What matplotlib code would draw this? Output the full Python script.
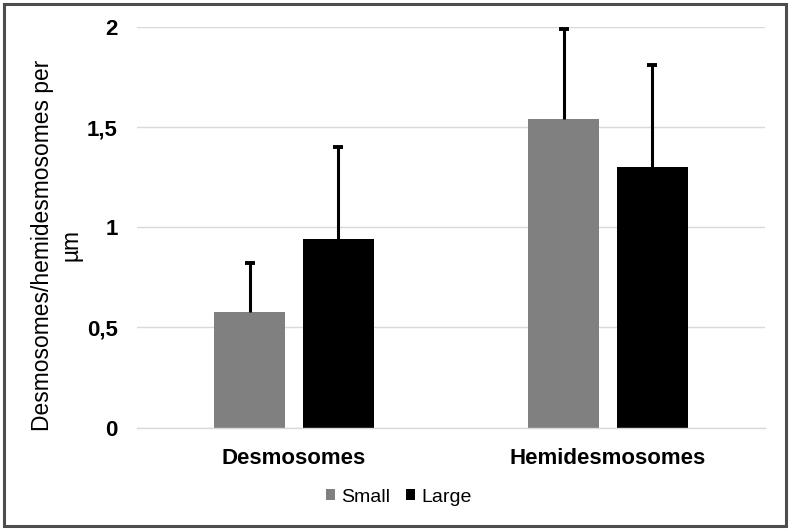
import numpy as np
import matplotlib.pyplot as plt
from matplotlib.patches import Rectangle

plt.rcParams['font.family'] = ['Liberation Sans', 'DejaVu Sans']

# data
categories = ['Desmosomes', 'Hemidesmosomes']
small_vals = [0.578, 1.54]
small_err = [0.245, 0.45]
large_vals = [0.943, 1.30]
large_err = [0.457, 0.51]
yticks = [0, 0.5, 1, 1.5, 2]
ytick_labels = ['0', '0,5', '1', '1,5', '2']

W, H = 790, 530
fig = plt.figure(figsize=(W / 100, H / 100), dpi=100)
ax = fig.add_axes([137 / W, 1 - 427.5 / H, 628 / W, (427.5 - 27) / H])

x = np.arange(len(categories))
bw = 0.226
off = 0.1417
series = [(x - off, small_vals, small_err, '#808080', 'Small'),
          (x + off, large_vals, large_err, 'black', 'Large')]
for xs, vals, err, col, lab in series:
    ax.bar(xs, vals, bw, color=col, label=lab, zorder=2)
    # upper-only error bars, cap only at the top
    ax.errorbar(xs, vals, yerr=[np.zeros(len(vals)), err], fmt='none',
                ecolor='black', elinewidth=2.2, capsize=0, zorder=3)
    ax.plot(xs, np.array(vals) + np.array(err), ls='none', marker='_',
            ms=7.5, mew=2.8, color='black', zorder=3)

ax.set_xlim(-0.5, 1.5)
ax.set_ylim(0, 2)
ax.set_yticks(yticks)
ax.set_yticklabels(ytick_labels, fontsize=16, fontweight='bold')
ax.set_xticks(x)
ax.set_xticklabels(categories, fontsize=16, fontweight='bold')
ax.tick_params(axis='y', length=0, pad=14)
ax.tick_params(axis='x', length=0, pad=14.5)
ax.grid(axis='y', color='#d9d9d9', linewidth=1, zorder=0)
ax.set_axisbelow(True)
for s in ['top', 'right', 'left']:
    ax.spines[s].set_visible(False)
ax.spines['bottom'].set_color('#d9d9d9')
ax.spines['bottom'].set_linewidth(1)

ax.set_ylabel('Desmosomes/hemidesmosomes per\nµm', fontsize=16.4,
              linespacing=1.3)
ax.yaxis.set_label_coords((82 - 137) / 628, (427.5 - 245) / 400.5)

fig.legend(loc='center', bbox_to_anchor=(399 / W, 1 - 497 / H), ncol=2,
           frameon=False, fontsize=14, handlelength=0.45, handleheight=0.45,
           handletextpad=0.35, columnspacing=0.8)

fig.patches.append(Rectangle((4 / W, 4 / H), 782 / W, 522 / H,
                             transform=fig.transFigure, fill=False,
                             edgecolor='#4d4d4d', linewidth=2.2))

fig.savefig('out.png', dpi=100)
